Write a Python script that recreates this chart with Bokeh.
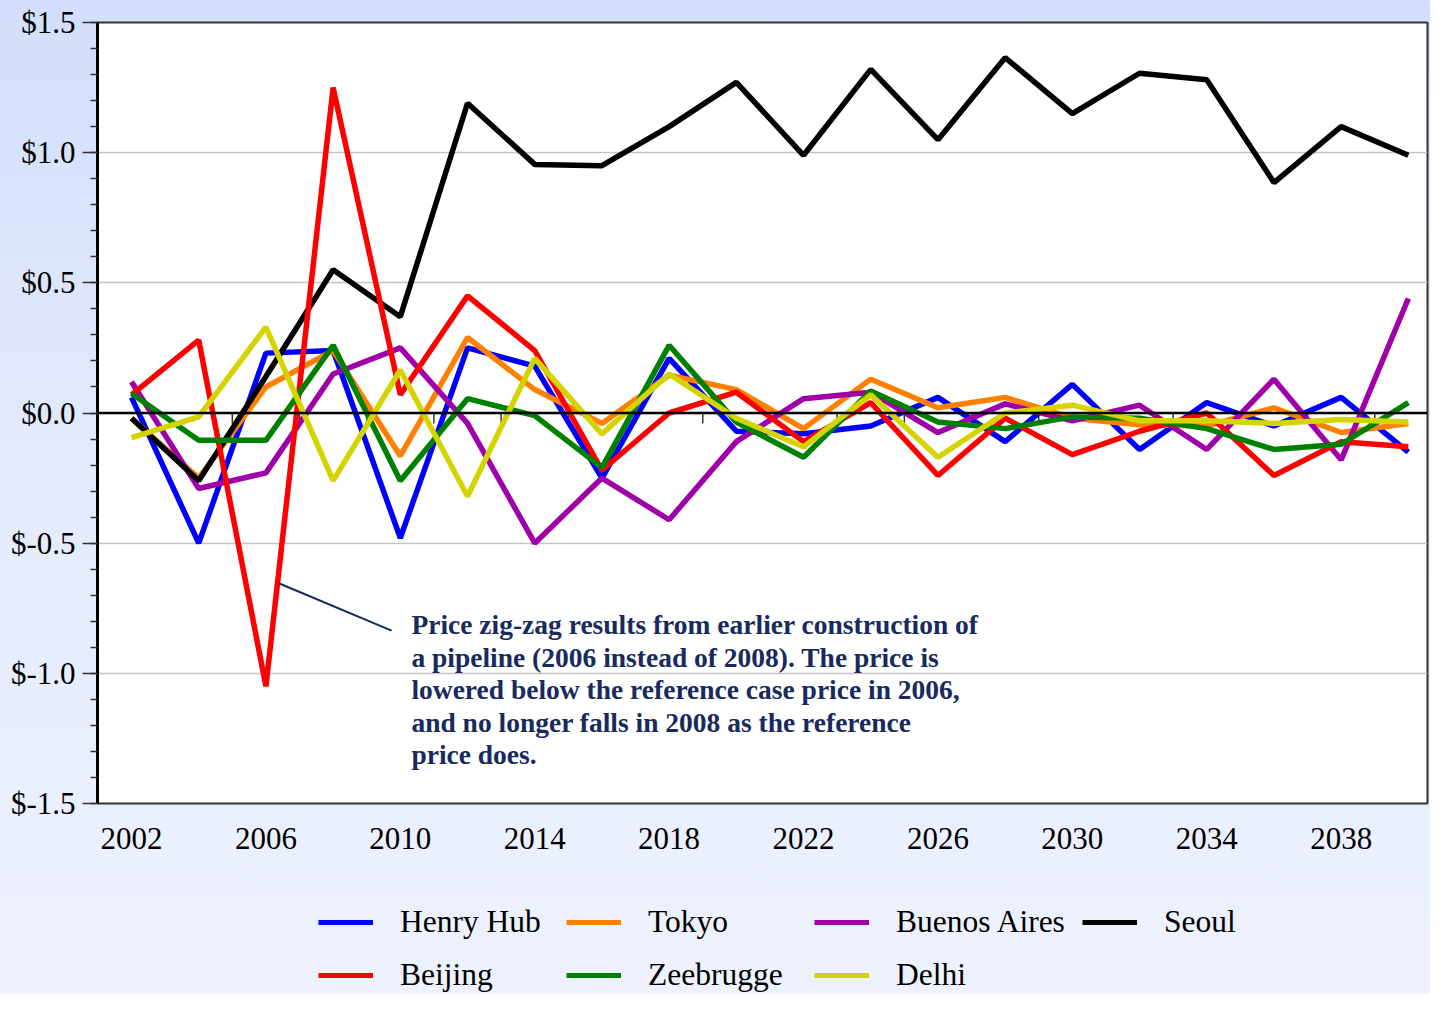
from bokeh.plotting import figure
from bokeh.layouts import column
from bokeh.models import Legend, LegendItem, Span, Label, FixedTicker, Range1d
from bokeh.embed import file_html
from bokeh.resources import INLINE

# ---------------- data ----------------
years = list(range(2002, 2041, 2))

henry_hub = [0.06, -0.50, 0.23, 0.24, -0.48, 0.25, 0.18, -0.25, 0.21, -0.07,
             -0.08, -0.05, 0.06, -0.11, 0.11, -0.14, 0.04, -0.05, 0.06, -0.15]
tokyo = [-0.02, -0.25, 0.10, 0.24, -0.165, 0.29, 0.09, -0.04, 0.145, 0.09,
         -0.06, 0.13, 0.02, 0.06, -0.02, -0.045, -0.05, 0.02, -0.075, -0.04]
buenos_aires = [0.12, -0.29, -0.23, 0.15, 0.25, -0.04, -0.50, -0.25, -0.41, -0.11,
                0.055, 0.08, -0.075, 0.035, -0.03, 0.03, -0.14, 0.13, -0.18, 0.44]
seoul = [-0.02, -0.26, 0.14, 0.55, 0.37, 1.19, 0.955, 0.95, 1.10, 1.27,
         0.99, 1.32, 1.05, 1.365, 1.15, 1.305, 1.28, 0.885, 1.10, 0.99]
beijing = [0.07, 0.28, -1.05, 1.25, 0.07, 0.45, 0.24, -0.22, 0.0, 0.08,
           -0.11, 0.04, -0.24, -0.02, -0.16, -0.07, 0.0, -0.24, -0.11, -0.13]
zeebrugge = [0.075, -0.105, -0.105, 0.26, -0.26, 0.055, -0.01, -0.21, 0.26, -0.035,
             -0.17, 0.085, -0.035, -0.06, -0.015, -0.02, -0.06, -0.14, -0.12, 0.04]
delhi = [-0.095, -0.015, 0.33, -0.26, 0.165, -0.32, 0.21, -0.08, 0.15, -0.02,
         -0.13, 0.07, -0.17, 0.0, 0.03, -0.03, -0.03, -0.04, -0.025, -0.035]

series_names = ["Henry Hub", "Tokyo", "Buenos Aires", "Seoul", "Beijing", "Zeebrugge", "Delhi"]
series_values = [henry_hub, tokyo, buenos_aires, seoul, beijing, zeebrugge, delhi]
series_colors = ["#0000ff", "#ff8000", "#a000a8", "#000000", "#ff0000", "#008000", "#d4d400"]

x_ticks = [2002, 2006, 2010, 2014, 2018, 2022, 2026, 2030, 2034, 2038]
y_ticks = [-1.5, -1.0, -0.5, 0.0, 0.5, 1.0, 1.5]
y_tick_labels = ["$-1.5", "$-1.0", "$-0.5", "$0.0", "$0.5", "$1.0", "$1.5"]
zero_line_ticks = list(range(2005, 2040, 2))

annotation_text = ("Price zig-zag results from earlier construction of\n"
                   "a pipeline (2006 instead of 2008). The price is\n"
                   "lowered below the reference case price in 2006,\n"
                   "and no longer falls in 2008 as the reference\n"
                   "price does.")
annotation_pos = (2010.33, -0.753)
callout_start = (2006.4, -0.655)
callout_end = (2009.74, -0.836)

SERIF = "Liberation Serif"
NAVY = "#182a5e"
W = 1430
MAIN_H = 863
LEG_H = 131

# ---------------- main figure ----------------
p = figure(width=W, height=MAIN_H, output_backend="svg", toolbar_location=None,
           x_range=Range1d(2000.988, 2040.57), y_range=Range1d(-1.5, 1.5),
           min_border_left=97, min_border_top=22, min_border_right=3, min_border_bottom=60)

p.border_fill_color = None
p.background_fill_color = "white"
p.outline_line_color = "#333333"
p.outline_line_width = 2

p.xgrid.visible = False
p.ygrid.grid_line_color = "#c4c4c4"
p.ygrid.grid_line_width = 1.5

ya = p.yaxis[0]
ya.ticker = FixedTicker(ticks=y_ticks,
                        minor_ticks=[round(-1.5 + 0.1 * i, 1) for i in range(31)])
ya.major_label_overrides = {t: l for t, l in zip(y_ticks, y_tick_labels)}
ya.axis_line_color = "black"
ya.axis_line_width = 3
ya.major_tick_in = 0
ya.major_tick_out = 15
ya.minor_tick_in = 0
ya.minor_tick_out = 7
ya.major_tick_line_color = "#333333"
ya.minor_tick_line_color = "#333333"
ya.major_tick_line_width = 1.5
ya.minor_tick_line_width = 1.5
ya.major_label_standoff = 7
ya.major_label_text_font = SERIF
ya.major_label_text_font_size = "31px"
ya.major_label_text_color = "black"

xa = p.xaxis[0]
xa.ticker = FixedTicker(ticks=x_ticks, minor_ticks=[])
xa.axis_line_color = None
xa.major_tick_line_color = None
xa.major_tick_out = 0
xa.major_tick_in = 0
xa.minor_tick_line_color = None
xa.major_label_standoff = 24
xa.major_label_text_font = SERIF
xa.major_label_text_font_size = "31px"
xa.major_label_text_color = "black"

p.add_layout(Span(location=0, dimension="width", line_color="black", line_width=2.5))
p.segment(x0=zero_line_ticks, y0=[0] * len(zero_line_ticks),
          x1=zero_line_ticks, y1=[-0.04] * len(zero_line_ticks),
          line_color="#333333", line_width=1.5)

for name, vals, col in zip(series_names, series_values, series_colors):
    p.line(years, vals, line_color=col, line_width=5.5)

p.segment(x0=[callout_start[0]], y0=[callout_start[1]], x1=[callout_end[0]], y1=[callout_end[1]],
          line_color=NAVY, line_width=2)
p.add_layout(Label(x=annotation_pos[0], y=annotation_pos[1], text=annotation_text,
                   text_font=SERIF, text_font_size="27.5px", text_font_style="bold",
                   text_color=NAVY, text_baseline="top", text_align="left",
                   text_line_height=1.05))

# ---------------- legend strip (same frame alignment as the chart) ----------------
lf = figure(width=W, height=LEG_H, output_backend="svg", toolbar_location=None,
            x_axis_location=None, y_axis_location=None,
            x_range=Range1d(0, 1), y_range=Range1d(0, 1),
            min_border_left=97, min_border_top=0, min_border_right=3, min_border_bottom=0)
lf.border_fill_color = None
lf.background_fill_color = None
lf.outline_line_color = None
lf.grid.visible = False

items = []
for name, vals, col in zip(series_names, series_values, series_colors):
    r = lf.line(years, vals, line_color=col, line_width=5)  # outside this strip's range
    items.append(LegendItem(label=name, renderers=[r]))

legend = Legend(items=items, orientation="horizontal", ncols=4, location=(221, 1),
                label_text_font=SERIF, label_text_font_size="31.5px", label_text_color="black",
                glyph_width=55, glyph_height=36, label_height=36, label_width=149,
                label_standoff=27, spacing=17,
                padding=0, margin=0, background_fill_alpha=0, border_line_color=None)
lf.add_layout(legend)

layout = column(p, lf, spacing=0,
                styles={"background": "linear-gradient(to bottom, #d2defb 0%, #e4ebfc 50%, #eef2fe 100%)"})

open("out.html", "w").write(file_html(layout, INLINE))
